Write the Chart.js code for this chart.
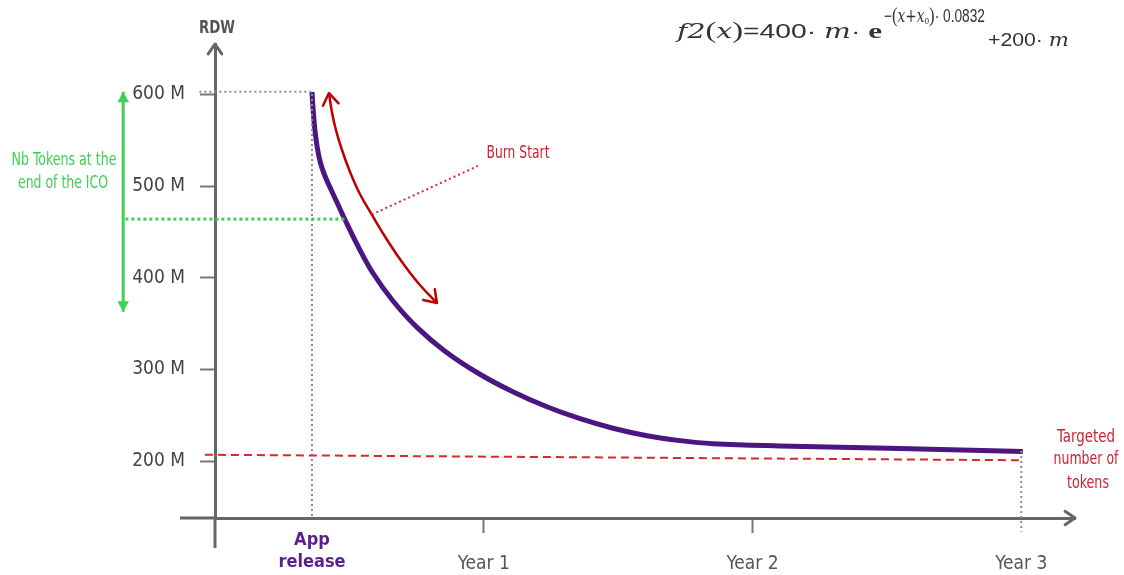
<!DOCTYPE html>
<html>
<head>
<meta charset="utf-8">
<script src="https://cdn.jsdelivr.net/npm/chart.js@4.4.0/dist/chart.umd.min.js"></script>
<style>
  html, body { margin: 0; padding: 0; background: #fff; }
  #wrap { width: 1124px; height: 575px; }
</style>
</head>
<body>
<div id="wrap"><canvas id="rdw-chart"></canvas></div>
<script>
// x = months since launch, y = RDW supply (millions)
const curveMonths = [4.33, 4.39, 4.46, 4.57, 4.71, 4.91, 5.18, 5.49, 5.80, 6.38, 7.05, 7.95, 9.02, 10.27, 11.83, 13.30, 14.82, 16.30, 17.77, 19.29, 20.76, 22.23, 25.22, 30.58, 36.07];
const curveSupply = [602.6, 580.8, 561.2, 541.5, 525.2, 511.0, 496.3, 479.9, 463.6, 434.7, 405.2, 374.7, 345.9, 320.0, 294.8, 275.7, 259.3, 246.3, 235.9, 227.7, 222.4, 219.1, 216.6, 213.7, 210.5];

const targetMonths = [-0.45, 35.95];
const targetSupply = [207, 201];

const appGuideMonths = [-0.7, 4.33, 4.33];
const appGuideSupply = [603, 603, 138];

const yearGuideMonths = [36, 36];
const yearGuideSupply = [211, 123];

const icoLineMonths = [-4.0, 5.8];
const icoLineSupply = [464, 464];
const icoArrowMonths = [-4.1, -4.1];
const icoArrowSupply = [603, 363];

const burnArrowMonths = [5.09, 5.22, 5.40, 5.67, 6.03, 6.47, 7.01, 7.63, 8.35, 9.11, 9.91];
const burnArrowSupply = [601.5, 580.8, 561.2, 539.4, 515.4, 491.4, 468.5, 443.4, 417.2, 393.2, 372.5];
const burnLeaderMonths = [7.0, 11.74];
const burnLeaderSupply = [469, 522];

const xTickValues = [4.33, 12, 24, 36];
const xTickLabels = [['App', 'release'], 'Year 1', 'Year 2', 'Year 3'];
const yTickValues = [200, 300, 400, 500, 600];
const yTickLabels = ['200 M', '300 M', '400 M', '500 M', '600 M'];

const LABEL_FONT = '"Liberation Sans Narrow", "DejaVu Sans Condensed", Roboto, sans-serif';

function pts(xs, ys) {
    return xs.map((x, i) => ({ x: x, y: ys[i] }));
}

function line(label, data, color, width, dash, extra) {
    return Object.assign({
        label: label,
        data: data,
        showLine: true,
        borderColor: color,
        backgroundColor: color,
        borderWidth: width,
        borderDash: dash,
        pointRadius: 0,
        pointHoverRadius: 0,
        clip: false
    }, extra || {});
}

// text squeezed to a given width (the original uses a condensed face)
function fitText(ctx, text, cx, cy, font, color, width) {
    ctx.save();
    ctx.font = font;
    ctx.fillStyle = color;
    ctx.textAlign = 'center';
    ctx.textBaseline = 'middle';
    const w = ctx.measureText(text).width;
    ctx.translate(cx, cy);
    ctx.scale(width / w, 1);
    ctx.fillText(text, 0, 0);
    ctx.restore();
}

function drawRun(ctx, parts, left, baseline, width) {
    ctx.save();
    let total = 0;
    parts.forEach(p => { ctx.font = p[0]; total += ctx.measureText(p[1]).width; });
    ctx.translate(left, baseline);
    ctx.scale(width / total, 1);
    ctx.fillStyle = '#333';
    ctx.textBaseline = 'alphabetic';
    ctx.textAlign = 'left';
    let x = 0;
    parts.forEach(p => {
        ctx.font = p[0];
        ctx.fillText(p[1], x, p[2] || 0);
        x += ctx.measureText(p[1]).width;
    });
    ctx.restore();
}

function arrowHead(ctx, tip, from, size, filled, color, width) {
    const a = Math.atan2(tip.y - from.y, tip.x - from.x);
    const spread = filled ? 0.5 : 0.6;
    const p1 = { x: tip.x - size * Math.cos(a - spread), y: tip.y - size * Math.sin(a - spread) };
    const p2 = { x: tip.x - size * Math.cos(a + spread), y: tip.y - size * Math.sin(a + spread) };
    ctx.save();
    ctx.strokeStyle = color;
    ctx.fillStyle = color;
    ctx.lineWidth = width;
    ctx.lineCap = 'round';
    ctx.lineJoin = 'round';
    ctx.beginPath();
    ctx.moveTo(p1.x, p1.y);
    ctx.lineTo(tip.x, tip.y);
    ctx.lineTo(p2.x, p2.y);
    if (filled) {
        ctx.closePath();
        ctx.fill();
    } else {
        ctx.stroke();
    }
    ctx.restore();
}

const decorations = {
    id: 'decorations',
    afterDatasetsDraw(chart) {
        const ctx = chart.ctx;
        // arrow heads on the annotation lines
        chart.data.datasets.forEach((ds, i) => {
            if (!ds.arrowHeads) return;
            const p = chart.getDatasetMeta(i).data;
            const n = p.length;
            arrowHead(ctx, p[0], p[1], ds.arrowSize, ds.arrowFill, ds.borderColor, ds.borderWidth);
            arrowHead(ctx, p[n - 1], p[n - 2], ds.arrowSize, ds.arrowFill, ds.borderColor, ds.borderWidth);
        });
    },
    afterDraw(chart) {
        const ctx = chart.ctx;
        const xs = chart.scales.x;
        const ys = chart.scales.y;
        const x0 = xs.getPixelForValue(0);
        const yb = ys.bottom;
        const axisColor = '#666';

        // axis lines running past the origin, plus arrows
        ctx.save();
        ctx.strokeStyle = axisColor;
        ctx.lineWidth = 3;
        ctx.beginPath();
        ctx.moveTo(x0, yb);
        ctx.lineTo(x0, yb + 30);
        ctx.moveTo(x0, yb);
        ctx.lineTo(x0 - 35, yb);
        ctx.stroke();
        ctx.restore();
        arrowHead(ctx, { x: x0, y: ys.top }, { x: x0, y: ys.top + 20 }, 12, false, axisColor, 3);
        arrowHead(ctx, { x: xs.right, y: yb }, { x: xs.right - 20, y: yb }, 12, false, axisColor, 3);

        // texts
        fitText(ctx, 'RDW', x0 + 2, 29, 'bold 17px ' + LABEL_FONT, '#555', 36);
        fitText(ctx, 'Nb Tokens at the', 64, 160, '18px ' + LABEL_FONT, '#3fcf55', 105);
        fitText(ctx, 'end of the ICO', 63, 183, '18px ' + LABEL_FONT, '#3fcf55', 90);
        fitText(ctx, 'Burn Start', 518, 154, '17px ' + LABEL_FONT, '#cc2233', 63);
        fitText(ctx, 'Targeted', 1086, 438, '17px ' + LABEL_FONT, '#cc2233', 58);
        fitText(ctx, 'number of', 1086, 460, '17px ' + LABEL_FONT, '#cc2233', 65);
        fitText(ctx, 'tokens', 1088, 484, '17px ' + LABEL_FONT, '#cc2233', 42);

        // formula
        const serifI = 'italic 20px "DejaVu Serif"';
        const paren = '23px "Liberation Serif"';
        const sans = '20px "Liberation Sans"';
        drawRun(ctx, [
            [serifI, 'f2'], [paren, '('], [serifI, 'x'], [paren, ')'],
            [sans, '=400· '], [serifI, 'm'], [sans, '· '], ['bold 22px "Liberation Serif"', 'e']
        ], 677, 38, 205);
        drawRun(ctx, [
            ['18px "Liberation Sans"', '−'], ['22px "Liberation Serif"', '('],
            ['italic 18px "DejaVu Serif"', 'x+x'], ['12px "Liberation Serif"', 'o', 2],
            ['22px "Liberation Serif"', ')'], ['18px "Liberation Sans"', '· 0.0832']
        ], 884, 22, 101);
        drawRun(ctx, [
            ['19px "Liberation Sans"', '+200· '], ['italic 19px "DejaVu Serif"', 'm']
        ], 988, 46, 81);
    }
};

new Chart(document.getElementById('rdw-chart'), {
    type: 'scatter',
    data: {
        datasets: [
            line('Target', pts(targetMonths, targetSupply), '#d42a2a', 2, [8, 5]),
            line('App release', pts(appGuideMonths, appGuideSupply), '#8c8c8c', 2, [2, 3]),
            line('Year 3', pts(yearGuideMonths, yearGuideSupply), '#8c8c8c', 2, [2, 3]),
            line('ICO level', pts(icoLineMonths, icoLineSupply), '#3fcf55', 3, [3, 3]),
            line('ICO range', pts(icoArrowMonths, icoArrowSupply), '#3fcf55', 3, [],
                { arrowHeads: true, arrowFill: true, arrowSize: 12 }),
            line('Burn leader', pts(burnLeaderMonths, burnLeaderSupply), '#d42a2a', 2, [2, 3]),
            line('Burn', pts(burnArrowMonths, burnArrowSupply), '#c00000', 2.5, [],
                { tension: 0.4, arrowHeads: true, arrowFill: false, arrowSize: 14 }),
            line('RDW supply', pts(curveMonths, curveSupply), '#4b1582', 5, [],
                { tension: 0.4, borderCapStyle: 'butt' })
        ]
    },
    options: {
        responsive: true,
        maintainAspectRatio: false,
        animation: false,
        layout: { padding: { top: 44, right: 49, left: 0, bottom: 0 } },
        plugins: {
            legend: { display: false },
            tooltip: { enabled: false }
        },
        scales: {
            x: {
                type: 'linear',
                min: 0,
                max: 38.4,
                afterFit: s => { s.height = 57; },
                afterBuildTicks: s => { s.ticks = xTickValues.map(v => ({ value: v })); },
                border: { display: true, color: '#666', width: 3 },
                grid: {
                    drawOnChartArea: false,
                    drawTicks: true,
                    tickLength: 15,
                    tickWidth: 2,
                    tickColor: c => (c.index === 1 || c.index === 2) ? '#777' : 'rgba(0,0,0,0)'
                },
                ticks: {
                    autoSkip: false,
                    maxRotation: 0,
                    crossAlign: 'far',
                    padding: 7,
                    callback: (v, i) => xTickLabels[i],
                    color: c => c.index === 0 ? '#5a1f8e' : '#555',
                    font: c => c.index === 0
                        ? { family: LABEL_FONT, size: 18, weight: 'bold', lineHeight: 1.25 }
                        : { family: LABEL_FONT, size: 19, lineHeight: 1.1 }
                }
            },
            y: {
                type: 'linear',
                min: 138,
                max: 655,
                afterFit: s => { s.width = 215; },
                afterBuildTicks: s => { s.ticks = yTickValues.map(v => ({ value: v })); },
                border: { display: true, color: '#666', width: 3 },
                grid: {
                    drawOnChartArea: false,
                    drawTicks: true,
                    tickLength: 15,
                    tickWidth: 2,
                    tickColor: '#777'
                },
                ticks: {
                    padding: 15,
                    callback: (v, i) => yTickLabels[i],
                    color: '#444',
                    font: { family: LABEL_FONT, size: 19 }
                }
            }
        }
    },
    plugins: [decorations]
});
</script>
</body>
</html>
